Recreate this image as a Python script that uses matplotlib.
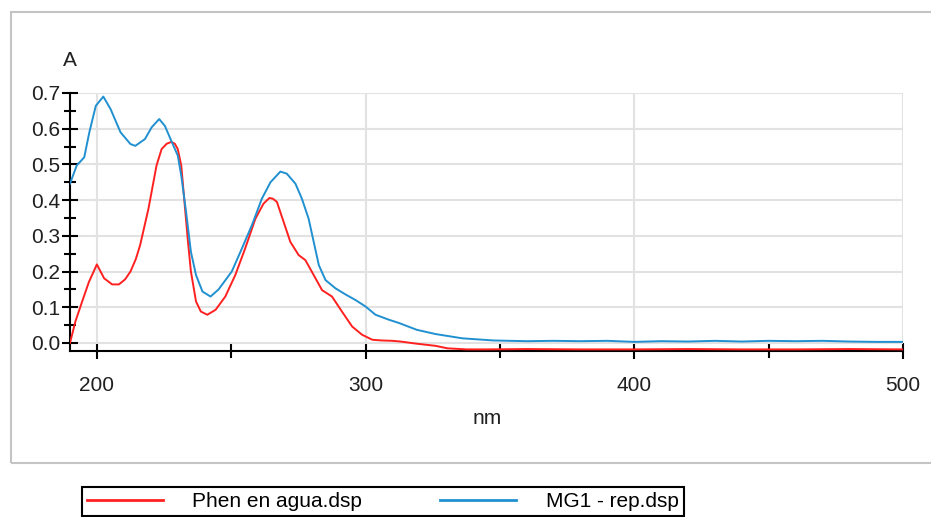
"""
plot.py

UV-Vis absorbance spectra: Phen en agua vs MG1 - rep.
"""

import matplotlib
matplotlib.use("Agg")
import matplotlib.pyplot as plt
from matplotlib.patches import Rectangle
from matplotlib.ticker import MultipleLocator

plt.rcParams["font.family"] = ["Liberation Sans", "DejaVu Sans"]

# Phen en agua.dsp (red)
phen_nm = [190, 192, 194.7, 197, 200, 202.7, 205.7, 208.2, 210.5, 212.5,
           214.5, 216.1, 219.2, 222.2, 224.1, 226, 227.7, 229, 230.1, 231.4,
           232.6, 233.8, 235, 236.9, 238.7, 241.1, 244.2, 247.8, 251.5, 255.2,
           259, 262, 264.2, 265.5, 267, 269.5, 272, 275.1, 277.6, 280.7,
           283.8, 287.5, 291.2, 295, 298.7, 302.5, 306, 310, 313, 319,
           326, 330.5, 337.7, 345, 360, 380, 400, 420, 440, 460, 480, 500]
phen_abs = [0.0, 0.06, 0.12, 0.17, 0.22, 0.181, 0.164, 0.164, 0.178, 0.20,
            0.235, 0.274, 0.376, 0.497, 0.543, 0.558, 0.563, 0.558, 0.543, 0.497,
            0.395, 0.292, 0.20, 0.116, 0.088, 0.079, 0.093, 0.130, 0.190, 0.265,
            0.348, 0.39, 0.406, 0.404, 0.395, 0.339, 0.283, 0.246, 0.232, 0.19,
            0.148, 0.13, 0.088, 0.046, 0.023, 0.009, 0.007, 0.006, 0.004, -0.002,
            -0.008, -0.015, -0.018, -0.018, -0.017, -0.018, -0.018, -0.017, -0.018,
            -0.018, -0.017, -0.018]

# MG1 - rep.dsp (blue)
mg1_nm = [190, 192.5, 195.3, 197.2, 199.6, 202.4, 205.1, 208.8, 212.5, 214.3,
          217.9, 220.4, 223.2, 225.3, 227.7, 230.1, 231.4, 233.2, 235, 236.9,
          239.3, 242.3, 245.3, 250.2, 254, 257.7, 261.4, 264.6, 268.3, 270.7,
          273.9, 276.3, 278.8, 280.7, 282.6, 285.1, 288.8, 292.5, 296.3, 300,
          303.7, 308.7, 312.4, 319, 326, 336, 347.6, 360, 370, 380, 390, 400,
          410, 420, 430, 440, 450, 460, 470, 480, 490, 500]
mg1_abs = [0.446, 0.497, 0.52, 0.59, 0.664, 0.69, 0.655, 0.59, 0.557, 0.552,
           0.571, 0.604, 0.627, 0.608, 0.566, 0.525, 0.469, 0.367, 0.255, 0.19,
           0.144, 0.13, 0.15, 0.20, 0.265, 0.33, 0.404, 0.45, 0.48, 0.474,
           0.446, 0.404, 0.348, 0.283, 0.218, 0.176, 0.153, 0.136, 0.12, 0.102,
           0.079, 0.065, 0.056, 0.037, 0.025, 0.013, 0.007, 0.005, 0.006, 0.005,
           0.006, 0.003, 0.005, 0.004, 0.006, 0.004, 0.006, 0.005, 0.006, 0.004,
           0.003, 0.003]

RED = "#ff2020"
BLUE = "#2090d0"
FS = 15

fig = plt.figure(figsize=(9.31, 5.17), dpi=100)
fig.patch.set_facecolor("white")

# outer chart frame (right side runs off the picture)
fig.patches.append(Rectangle((11 / 931, 1 - 463 / 517), 1.0, (463 - 12) / 517,
                             transform=fig.transFigure, fill=False,
                             edgecolor="#c4c4c4", linewidth=1.5))

ax = fig.add_axes([70 / 931, 1 - 351 / 517, (903 - 70) / 931, (351 - 93) / 517])

ax.plot(phen_nm, phen_abs, color=RED, linewidth=1.4, label="Phen en agua.dsp", zorder=3)
ax.plot(mg1_nm, mg1_abs, color=BLUE, linewidth=1.4, label="MG1 - rep.dsp", zorder=3)

ax.set_xlim(190, 500)
ax.set_ylim(-0.0225, 0.7)

ax.set_xticks([200, 300, 400, 500])
ax.xaxis.set_minor_locator(MultipleLocator(50))
ax.set_yticks([0.0, 0.1, 0.2, 0.3, 0.4, 0.5, 0.6, 0.7])
ax.set_yticklabels(["0.0", "0.1", "0.2", "0.3", "0.4", "0.5", "0.6", "0.7"])
ax.yaxis.set_minor_locator(MultipleLocator(0.05))

ax.tick_params(axis="both", which="both", direction="inout", width=1.5,
               colors="black", labelsize=FS, labelcolor="#202020")
ax.tick_params(axis="y", which="major", length=12, pad=1)
ax.tick_params(axis="y", which="minor", length=8)
ax.tick_params(axis="x", which="major", length=12, pad=12)
ax.tick_params(axis="x", which="minor", length=10)

ax.grid(True, which="major", color="#e2e2e2", linewidth=1.5, zorder=0)
ax.set_axisbelow(True)

for side in ["top", "right"]:
    ax.spines[side].set_visible(False)
for side in ["left", "bottom"]:
    ax.spines[side].set_linewidth(1.5)
    ax.spines[side].set_color("black")

fig.text(70 / 931, 1 - 60 / 517, "A", fontsize=FS, ha="center", va="center", color="#202020")
fig.text(487 / 931, 1 - 418 / 517, "nm", fontsize=FS, ha="center", va="center", color="#202020")

leg = fig.legend(loc="upper left", bbox_to_anchor=(82 / 931, 1 - 487 / 517),
                 ncol=2, fontsize=FS, frameon=True, fancybox=False,
                 edgecolor="black", facecolor="white", framealpha=1,
                 handlelength=3.65, handletextpad=1.4, columnspacing=3.75,
                 borderpad=0.25, borderaxespad=0)
leg.get_frame().set_linewidth(1.5)
for line in leg.get_lines():
    line.set_linewidth(2)

fig.savefig("out.png", dpi=100)
plt.close(fig)
